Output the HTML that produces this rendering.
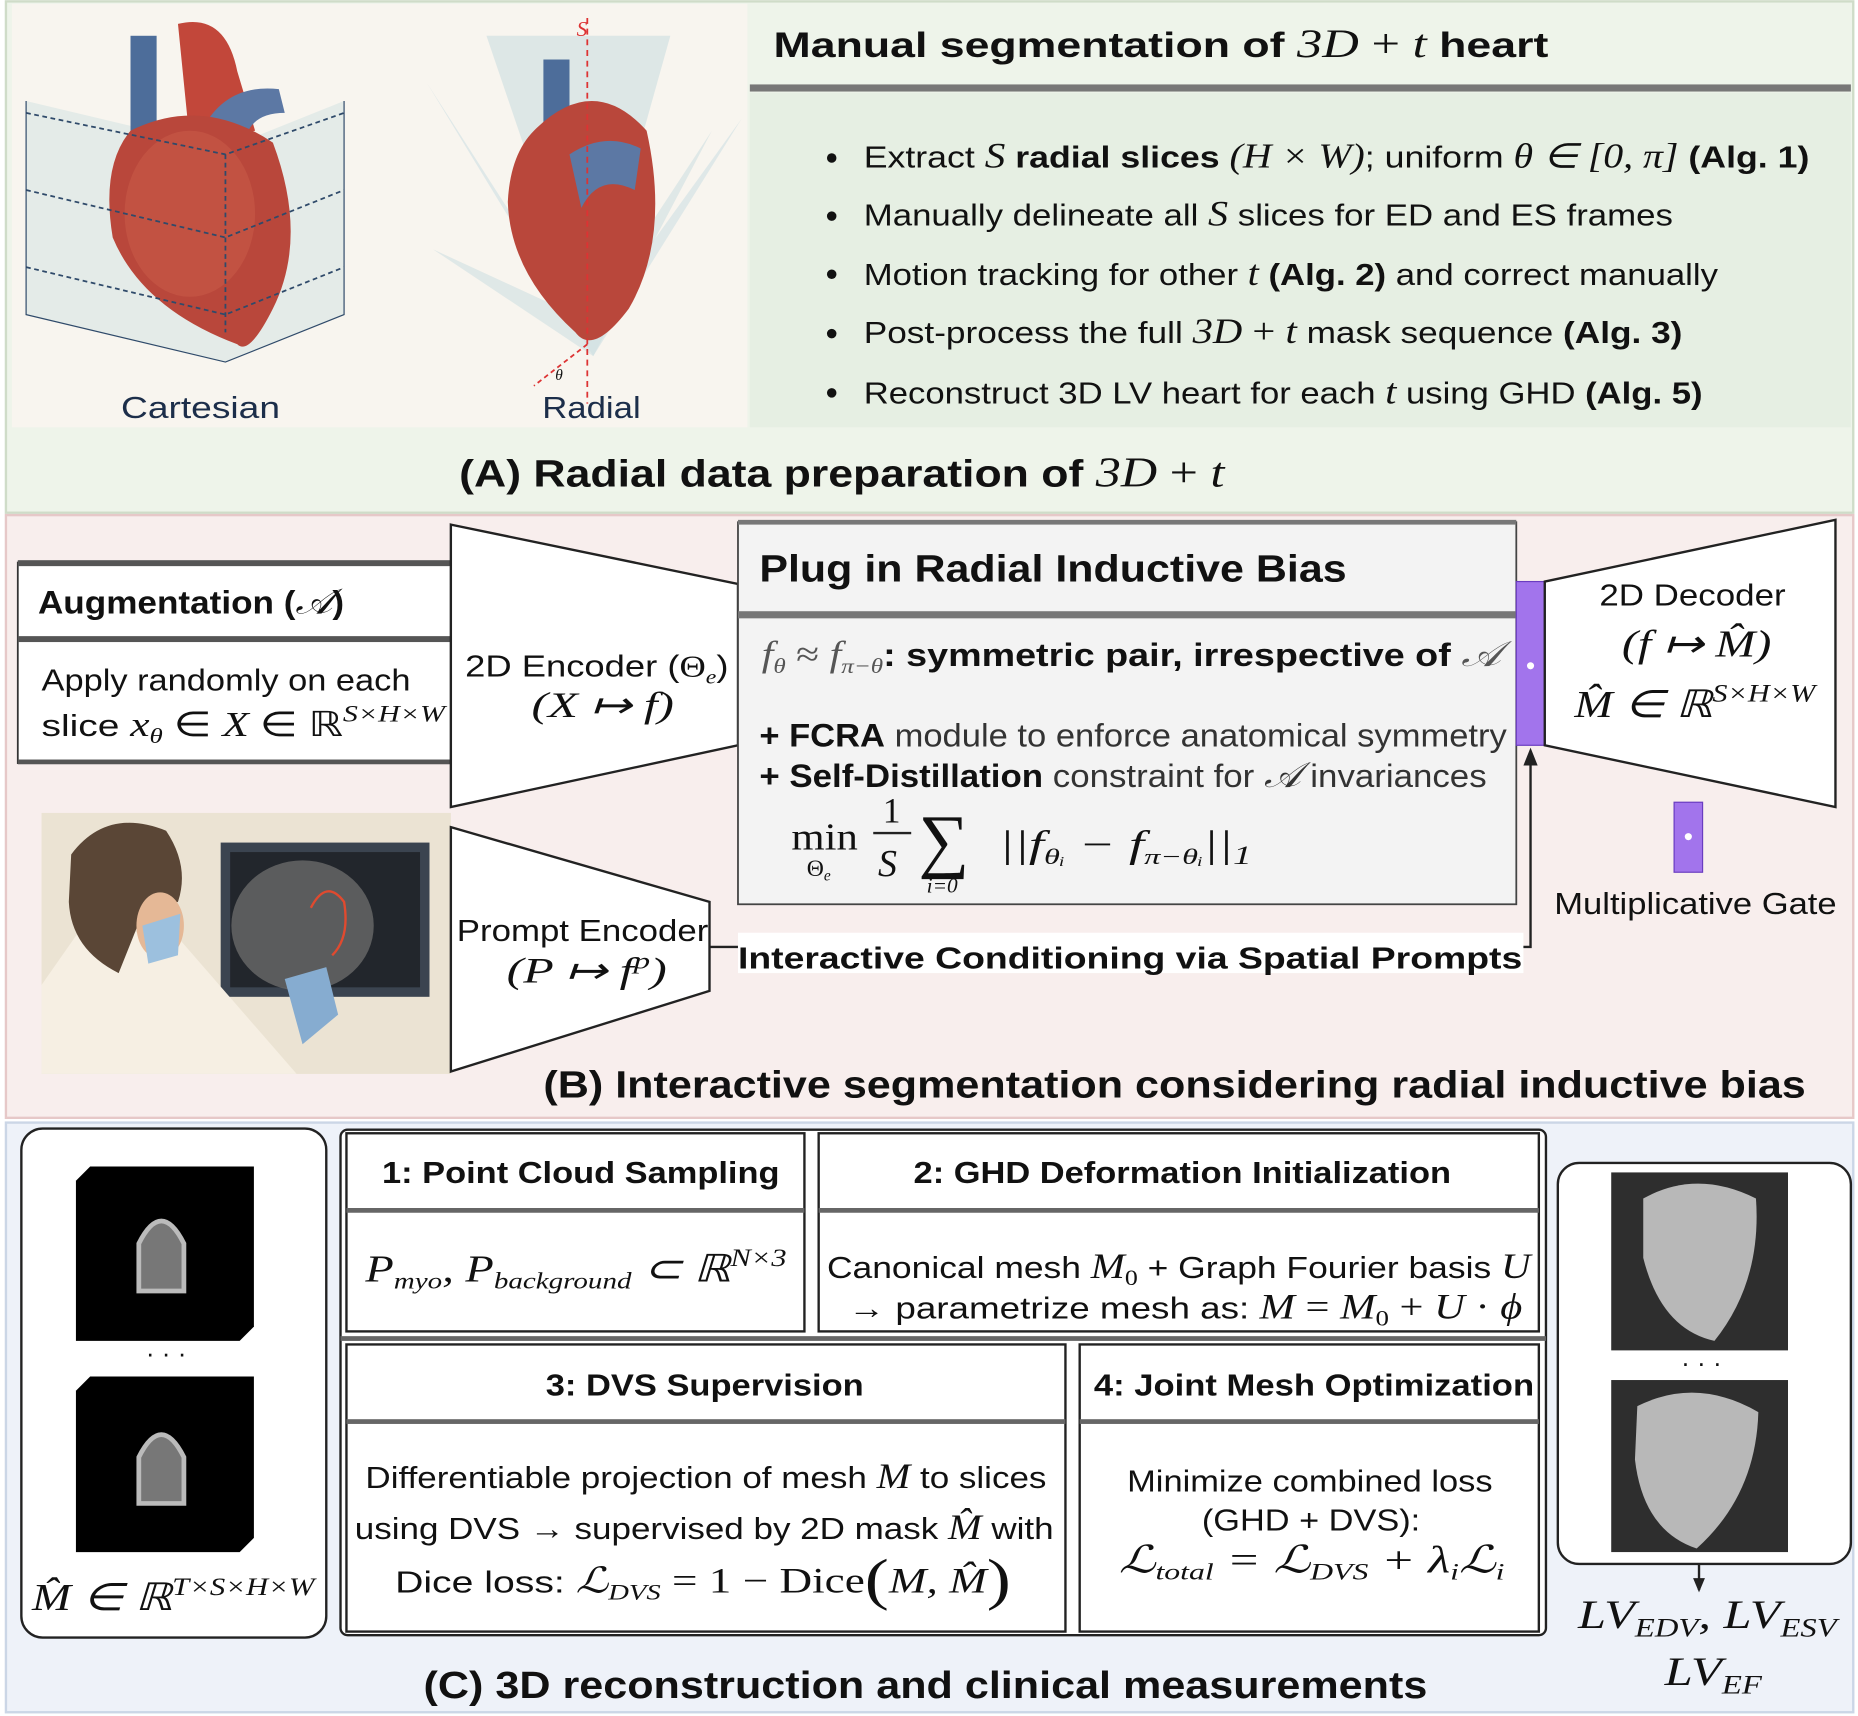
<!DOCTYPE html>
<html><head><meta charset="utf-8"><style>
html,body{margin:0;padding:0;background:#fff;width:1858px;height:1716px;overflow:hidden}
svg{display:block}
text{font-family:"Liberation Sans",sans-serif;fill:#111}
.m{font-family:"Liberation Serif",serif;font-style:italic}
.r{font-family:"Liberation Serif",serif}
.b{font-weight:bold}
</style></head><body>
<svg width="1858" height="1716" viewBox="0 0 1566 1446" xmlns="http://www.w3.org/2000/svg">
<!-- Section A -->
<g>
<rect x="5" y="1" width="1557" height="431" fill="#eef4ea" stroke="#cfdcc8" stroke-width="2"/>
<rect x="10" y="3" width="620" height="357" fill="#f8f5ef"/>
<g>
<polygon points="22,85 190,125 290,85 290,265 190,305 22,265" fill="#dfe8e6" opacity="0.8"/>
<rect x="110" y="30" width="22" height="120" fill="#4d6d9a"/>
<path d="M150,20 Q190,10 200,60 L215,110 L160,120 Z" fill="#c2473a"/>
<path d="M170,110 Q190,70 235,75 L240,95 Q205,95 205,130 Z" fill="#5c78a4"/>
<path d="M110,110 Q170,80 230,120 Q260,200 230,260 Q210,300 200,290 Q120,260 95,200 Q85,140 110,110 Z" fill="#b9473b"/>
<ellipse cx="160" cy="180" rx="55" ry="70" fill="#c85a48" opacity="0.6"/>
<g fill="none" stroke="#2f4a6a" stroke-width="1.5" stroke-dasharray="4,3">
<polyline points="22,95 190,130 290,95"/><polyline points="22,160 190,200 290,160"/><polyline points="22,225 190,265 290,225"/>
<line x1="190" y1="130" x2="190" y2="280"/>
</g>
<polyline points="22,85 22,265 190,305 290,265 290,85" fill="none" stroke="#2f4a6a" stroke-width="1"/>
</g>
<g>
<polygon points="360,70 495,280 625,100 500,300" fill="#d8e5e6" opacity="0.8"/>
<polygon points="410,30 495,280 565,30" fill="#d2e1e3" opacity="0.7"/>
<polygon points="365,210 495,270 600,110 500,300" fill="#cfdfe1" opacity="0.6"/>
<rect x="458" y="50" width="22" height="70" fill="#4d6d9a"/>
<path d="M450,110 Q500,60 545,110 Q565,200 530,260 Q500,300 485,280 Q430,230 428,170 Q430,130 450,110 Z" fill="#b9473b"/>
<path d="M480,130 Q510,110 540,125 L535,160 Q505,145 490,175 Z" fill="#5c78a4"/>
<line x1="495" y1="15" x2="495" y2="340" stroke="#d33" stroke-width="1.5" stroke-dasharray="5,4"/>
<line x1="495" y1="290" x2="450" y2="325" stroke="#d33" stroke-width="1.5" stroke-dasharray="4,3"/>
<text x="486" y="30" class="m" font-size="18" style="fill:#d33">S</text>
<text x="468" y="320" class="m" font-size="13">θ</text>
</g>
<text x="102" y="352" font-size="26" textLength="134" lengthAdjust="spacingAndGlyphs" style="fill:#1c2e4a">Cartesian</text>
<text x="457" y="352" font-size="26" textLength="83" lengthAdjust="spacingAndGlyphs" style="fill:#1c2e4a">Radial</text>
<rect x="632" y="3" width="928" height="70" fill="#eef4ea"/>
<text x="652" y="48" font-size="30" class="b" textLength="653" lengthAdjust="spacingAndGlyphs">Manual segmentation of <tspan class="m" font-weight="normal" font-size="34">3D</tspan><tspan class="r" font-weight="normal" font-size="34"> + </tspan><tspan class="m" font-weight="normal" font-size="34">t</tspan> heart</text>
<rect x="632" y="71" width="928" height="6" fill="#777"/>
<rect x="632" y="78" width="928" height="282" fill="#e6efe3"/>
<g font-size="26" style="fill:#333">
<circle cx="701" cy="133" r="4" fill="#111"/><circle cx="701" cy="182" r="4" fill="#111"/><circle cx="701" cy="231" r="4" fill="#111"/><circle cx="701" cy="281" r="4" fill="#111"/><circle cx="701" cy="331" r="4" fill="#111"/>
<text x="728" y="141" textLength="797" lengthAdjust="spacingAndGlyphs">Extract <tspan class="m" font-size="30">S</tspan> <tspan class="b">radial slices</tspan> <tspan class="m" font-size="29">(H × W)</tspan>; uniform <tspan class="m" font-size="29">θ ∈ [0, π]</tspan> <tspan class="b">(Alg. 1)</tspan></text>
<text x="728" y="190" textLength="682" lengthAdjust="spacingAndGlyphs">Manually delineate all <tspan class="m" font-size="30">S</tspan> slices for ED and ES frames</text>
<text x="728" y="240" textLength="720" lengthAdjust="spacingAndGlyphs">Motion tracking for other <tspan class="m" font-size="30">t</tspan> <tspan class="b">(Alg. 2)</tspan> and correct manually</text>
<text x="728" y="289" textLength="690" lengthAdjust="spacingAndGlyphs">Post-process the full <tspan class="m" font-size="30">3D</tspan><tspan class="r" font-size="30"> + </tspan><tspan class="m" font-size="30">t</tspan> mask sequence <tspan class="b">(Alg. 3)</tspan></text>
<text x="728" y="340" textLength="707" lengthAdjust="spacingAndGlyphs">Reconstruct 3D LV heart for each <tspan class="m" font-size="30">t</tspan> using GHD <tspan class="b">(Alg. 5)</tspan></text>
</g>
<text x="387" y="410" font-size="32" class="b" textLength="645" lengthAdjust="spacingAndGlyphs">(A) Radial data preparation of <tspan class="m" font-weight="normal" font-size="36">3D</tspan><tspan class="r" font-weight="normal" font-size="36"> + </tspan><tspan class="m" font-weight="normal" font-size="36">t</tspan></text>
</g>

<!-- Section B -->
<g>
<rect x="5" y="434" width="1557" height="508" fill="#f8eeed" stroke="#e6c8c8" stroke-width="2"/>
<g>
<rect x="15" y="474" width="365" height="169" fill="#fff" stroke="#333" stroke-width="1.5"/>
<rect x="15" y="472" width="365" height="5" fill="#555"/>
<rect x="15" y="536" width="365" height="5" fill="#555"/>
<rect x="15" y="640" width="365" height="4" fill="#555"/>
<text x="32" y="517" font-size="27" class="b" textLength="258" lengthAdjust="spacingAndGlyphs">Augmentation (<tspan class="m" font-weight="normal" font-size="30">𝒜</tspan>)</text>
<text x="35" y="582" font-size="26" textLength="311" lengthAdjust="spacingAndGlyphs">Apply randomly on each</text>
<text x="35" y="620" font-size="26" textLength="340" lengthAdjust="spacingAndGlyphs">slice <tspan class="m" font-size="29">x</tspan><tspan class="m" font-size="18" dy="6">θ</tspan><tspan class="r" font-size="29" dy="-6"> ∈ </tspan><tspan class="m" font-size="29">X</tspan><tspan class="r" font-size="29"> ∈ ℝ</tspan><tspan class="m" font-size="20" dy="-12">S×H×W</tspan></text>
</g>
<polygon points="380,442 622,492 622,628 380,680" fill="#fff" stroke="#222" stroke-width="2"/>
<text x="392" y="570" font-size="26" textLength="222" lengthAdjust="spacingAndGlyphs">2D Encoder (<tspan class="r">Θ</tspan><tspan class="m" font-size="17" dy="6">e</tspan><tspan dy="-6">)</tspan></text>
<text x="448" y="604" font-size="30" textLength="120" lengthAdjust="spacingAndGlyphs" class="m">(X ↦ f)</text>
<g>
<rect x="622" y="440" width="656" height="322" fill="#f3f3f3" stroke="#444" stroke-width="1.5"/>
<rect x="622" y="438" width="656" height="4" fill="#777"/>
<rect x="622" y="515" width="656" height="6" fill="#777"/>
<text x="640" y="490" font-size="32" class="b" textLength="495" lengthAdjust="spacingAndGlyphs">Plug in Radial Inductive Bias</text>
<text x="642" y="561" font-size="27" class="b" textLength="623" lengthAdjust="spacingAndGlyphs"><tspan class="m" font-weight="normal" font-size="30" style="fill:#555">f</tspan><tspan class="m" font-weight="normal" font-size="18" dy="6" style="fill:#555">θ</tspan><tspan class="r" font-weight="normal" font-size="30" dy="-6" style="fill:#555"> ≈ </tspan><tspan class="m" font-weight="normal" font-size="30" style="fill:#555">f</tspan><tspan class="m" font-weight="normal" font-size="18" dy="6" style="fill:#555">π−θ</tspan><tspan dy="-6">: symmetric pair, irrespective of </tspan><tspan class="m" font-weight="normal" font-size="30" style="fill:#555">𝒜</tspan></text>
<text x="640" y="629" font-size="27" textLength="630" lengthAdjust="spacingAndGlyphs" style="fill:#333"><tspan class="b" style="fill:#111">+ FCRA</tspan> module to enforce anatomical symmetry</text>
<text x="640" y="663" font-size="27" textLength="613" lengthAdjust="spacingAndGlyphs" style="fill:#333"><tspan class="b" style="fill:#111">+ Self-Distillation</tspan> constraint for <tspan class="m" font-size="30">𝒜</tspan> invariances</text>
<g>
<text x="667" y="716" font-size="32" class="r" textLength="56" lengthAdjust="spacingAndGlyphs">min</text>
<text x="680" y="738" font-size="20" class="r">Θ<tspan class="m" font-size="13" dy="4">e</tspan></text>
<text x="744" y="693" font-size="30" class="r">1</text>
<line x1="736" y1="702" x2="768" y2="702" stroke="#222" stroke-width="2"/>
<text x="740" y="738" font-size="32" class="m">S</text>
<text x="774" y="728" font-size="60" class="r">∑</text>
<text x="781" y="752" font-size="18" class="m">i<tspan class="r">=0</tspan></text>
<text x="842" y="722" font-size="32" class="m" textLength="213" lengthAdjust="spacingAndGlyphs">||f<tspan font-size="19" dy="6">θᵢ</tspan><tspan class="r" dy="-6"> − </tspan>f<tspan font-size="19" dy="6">π−θᵢ</tspan><tspan dy="-6">||</tspan><tspan class="r" font-size="22" dy="6">1</tspan></text>
</g>
</g>
<rect x="1278" y="490" width="24" height="138" fill="#a274ec" stroke="#6a3cc0" stroke-width="1"/>
<circle cx="1290" cy="561" r="3" fill="#fff"/>
<polygon points="1302,490 1547,438 1547,680 1302,628" fill="#fff" stroke="#222" stroke-width="2"/>
<text x="1348" y="510" font-size="26" textLength="157" lengthAdjust="spacingAndGlyphs">2D Decoder</text>
<text x="1367" y="553" font-size="32" class="m" textLength="126" lengthAdjust="spacingAndGlyphs">(f ↦ M̂)</text>
<text x="1327" y="604" font-size="32" class="m" textLength="203" lengthAdjust="spacingAndGlyphs">M̂<tspan class="r"> ∈ ℝ</tspan><tspan font-size="21" dy="-13">S×H×W</tspan></text>
<rect x="1411" y="676" width="24" height="59" fill="#a274ec" stroke="#6a3cc0" stroke-width="1"/>
<circle cx="1423" cy="705" r="3" fill="#fff"/>
<text x="1310" y="770" font-size="26" textLength="238" lengthAdjust="spacingAndGlyphs">Multiplicative Gate</text>
<g>
<rect x="35" y="685" width="345" height="220" fill="#ebe3d3"/>
<rect x="186" y="710" width="176" height="130" fill="#3b4450"/>
<rect x="194" y="718" width="160" height="114" fill="#22262c"/>
<ellipse cx="255" cy="780" rx="60" ry="55" fill="#6a6a6a" opacity="0.8"/>
<path d="M262,765 Q275,740 290,760 Q295,790 280,805" fill="none" stroke="#e04a2f" stroke-width="2"/>
<path d="M35,830 L70,780 L150,790 L250,905 L35,905 Z" fill="#f6efe3"/>
<path d="M60,720 Q90,680 140,700 Q160,730 150,760 L120,770 L100,820 Q60,800 58,760 Z" fill="#5a4636"/>
<ellipse cx="135" cy="780" rx="20" ry="28" fill="#e5b896"/>
<path d="M120,780 L152,770 L150,805 L125,812 Z" fill="#9cc0de"/>
<path d="M240,825 L275,815 L285,855 L255,880 Z" fill="#86acd0"/>
</g>
<polygon points="380,697 598,760 598,835 380,903" fill="#fff" stroke="#222" stroke-width="2"/>
<text x="385" y="793" font-size="26" textLength="212" lengthAdjust="spacingAndGlyphs">Prompt Encoder</text>
<text x="427" y="828" font-size="30" class="m" textLength="135" lengthAdjust="spacingAndGlyphs">(P ↦ f<tspan font-size="20" dy="-12">p</tspan><tspan dy="12">)</tspan></text>
<line x1="598" y1="798" x2="622" y2="798" stroke="#222" stroke-width="2"/>
<rect x="622" y="786" width="662" height="34" fill="#fff"/>
<text x="622" y="816" font-size="26" class="b" textLength="661" lengthAdjust="spacingAndGlyphs">Interactive Conditioning via Spatial Prompts</text>
<polyline points="1284,798 1290,798 1290,640" fill="none" stroke="#222" stroke-width="2"/>
<polygon points="1290,630 1284,645 1296,645" fill="#222"/>
<text x="458" y="925" font-size="32" class="b" textLength="1064" lengthAdjust="spacingAndGlyphs">(B) Interactive segmentation considering radial inductive bias</text>
</g>

<!-- Section C -->
<g>
<rect x="5" y="946" width="1557" height="497" fill="#eef2f9" stroke="#cbd6e6" stroke-width="2"/>
<g>
<rect x="18" y="951" width="257" height="429" rx="18" fill="#fff" stroke="#222" stroke-width="2"/>
<polygon points="76,983 214,983 214,1118 202,1130 64,1130 64,995" fill="#000"/>
<path d="M117,1088 L117,1048 Q136,1010 155,1048 L155,1088 Z" fill="#777" stroke="#bbb" stroke-width="4"/>
<text x="140" y="1148" font-size="22" text-anchor="middle">· · ·</text>
<polygon points="76,1160 214,1160 214,1296 202,1308 64,1308 64,1172" fill="#000"/>
<path d="M117,1267 L117,1228 Q136,1190 155,1228 L155,1267 Z" fill="#777" stroke="#bbb" stroke-width="4"/>
<text x="27" y="1357" font-size="32" class="m" textLength="238" lengthAdjust="spacingAndGlyphs">M̂<tspan class="r"> ∈ ℝ</tspan><tspan font-size="21" dy="-13">T×S×H×W</tspan></text>
</g>
<rect x="287" y="952" width="1016" height="426" rx="6" fill="#fff" stroke="#222" stroke-width="2"/>
<g fill="#fff" stroke="#222" stroke-width="2">
<rect x="292" y="955" width="386" height="167"/>
<rect x="690" y="955" width="607" height="167"/>
<rect x="292" y="1133" width="606" height="242"/>
<rect x="910" y="1133" width="387" height="242"/>
</g>
<g fill="#666">
<rect x="292" y="1018" width="386" height="4"/><rect x="690" y="1018" width="607" height="4"/>
<rect x="292" y="1196" width="606" height="4"/><rect x="910" y="1196" width="387" height="4"/>
<rect x="287" y="1126" width="1016" height="4"/>
</g>
<text x="322" y="997" font-size="26" class="b" textLength="335" lengthAdjust="spacingAndGlyphs">1: Point Cloud Sampling</text>
<text x="308" y="1080" font-size="32" class="m" textLength="355" lengthAdjust="spacingAndGlyphs">P<tspan font-size="20" dy="6">myo</tspan><tspan dy="-6">, P</tspan><tspan font-size="20" dy="6">background</tspan><tspan class="r" dy="-6"> ⊂ ℝ</tspan><tspan font-size="21" dy="-13">N×3</tspan></text>
<text x="770" y="997" font-size="26" class="b" textLength="453" lengthAdjust="spacingAndGlyphs">2: GHD Deformation Initialization</text>
<text x="697" y="1077" font-size="26" textLength="593" lengthAdjust="spacingAndGlyphs">Canonical mesh <tspan class="m" font-size="30">M</tspan><tspan class="r" font-size="19" dy="6">0</tspan><tspan dy="-6"> + Graph Fourier basis </tspan><tspan class="m" font-size="30">U</tspan></text>
<text x="715" y="1111" font-size="26" textLength="568" lengthAdjust="spacingAndGlyphs">→ parametrize mesh as: <tspan class="m" font-size="30">M</tspan><tspan class="r" font-size="30"> = </tspan><tspan class="m" font-size="30">M</tspan><tspan class="r" font-size="19" dy="6">0</tspan><tspan class="r" font-size="30" dy="-6"> + </tspan><tspan class="m" font-size="30">U</tspan><tspan class="r" font-size="30"> · </tspan><tspan class="m" font-size="30">ϕ</tspan></text>
<text x="460" y="1176" font-size="26" class="b" textLength="268" lengthAdjust="spacingAndGlyphs">3: DVS Supervision</text>
<text x="308" y="1254" font-size="26" textLength="574" lengthAdjust="spacingAndGlyphs">Differentiable projection of mesh <tspan class="m" font-size="30">M</tspan> to slices</text>
<text x="299" y="1297" font-size="26" textLength="589" lengthAdjust="spacingAndGlyphs">using DVS → supervised by 2D mask <tspan class="m" font-size="30">M̂</tspan> with</text>
<text x="333" y="1342" font-size="26" textLength="519" lengthAdjust="spacingAndGlyphs">Dice loss: <tspan class="m" font-size="30">ℒ</tspan><tspan class="m" font-size="19" dy="6">DVS</tspan><tspan class="r" font-size="30" dy="-6"> = 1 − Dice</tspan><tspan class="r" font-size="48" dy="5">(</tspan><tspan class="m" font-size="30" dy="-5">M, M̂</tspan><tspan class="r" font-size="48" dy="5">)</tspan></text>
<text x="922" y="1176" font-size="26" class="b" textLength="371" lengthAdjust="spacingAndGlyphs">4: Joint Mesh Optimization</text>
<text x="950" y="1257" font-size="26" textLength="308" lengthAdjust="spacingAndGlyphs">Minimize combined loss</text>
<text x="1013" y="1290" font-size="26" textLength="184" lengthAdjust="spacingAndGlyphs">(GHD + DVS):</text>
<text x="943" y="1325" font-size="32" class="m" textLength="325" lengthAdjust="spacingAndGlyphs">ℒ<tspan class="r" font-size="20" dy="6">total</tspan><tspan class="r" dy="-6"> = </tspan>ℒ<tspan class="r" font-size="20" dy="6">DVS</tspan><tspan class="r" dy="-6"> + λ</tspan><tspan font-size="20" dy="6">i</tspan><tspan dy="-6">ℒ</tspan><tspan font-size="20" dy="6">i</tspan></text>
<g>
<rect x="1313" y="980" width="247" height="338" rx="18" fill="#fff" stroke="#222" stroke-width="2"/>
<rect x="1358" y="988" width="149" height="150" fill="#2e2e2e"/>
<path d="M1385,1010 Q1430,985 1480,1010 Q1485,1080 1445,1130 Q1400,1120 1385,1060 Z" fill="#b8b8b8"/>
<text x="1434" y="1156" font-size="22" text-anchor="middle">· · ·</text>
<rect x="1358" y="1163" width="149" height="145" fill="#2e2e2e"/>
<path d="M1380,1185 Q1430,1160 1482,1190 Q1480,1260 1430,1305 Q1385,1290 1378,1230 Z" fill="#b8b8b8"/>
</g>
<line x1="1432" y1="1318" x2="1432" y2="1340" stroke="#222" stroke-width="2"/>
<polygon points="1432,1342 1427,1330 1437,1330" fill="#222"/>
<text x="1330" y="1372" font-size="34" class="m" textLength="218" lengthAdjust="spacingAndGlyphs">LV<tspan font-size="22" dy="7">EDV</tspan><tspan dy="-7">, LV</tspan><tspan font-size="22" dy="7">ESV</tspan></text>
<text x="1403" y="1420" font-size="34" class="m" textLength="82" lengthAdjust="spacingAndGlyphs">LV<tspan font-size="22" dy="7">EF</tspan></text>
<text x="357" y="1431" font-size="32" class="b" textLength="846" lengthAdjust="spacingAndGlyphs">(C) 3D reconstruction and clinical measurements</text>
</g>
</svg>
</body></html>
